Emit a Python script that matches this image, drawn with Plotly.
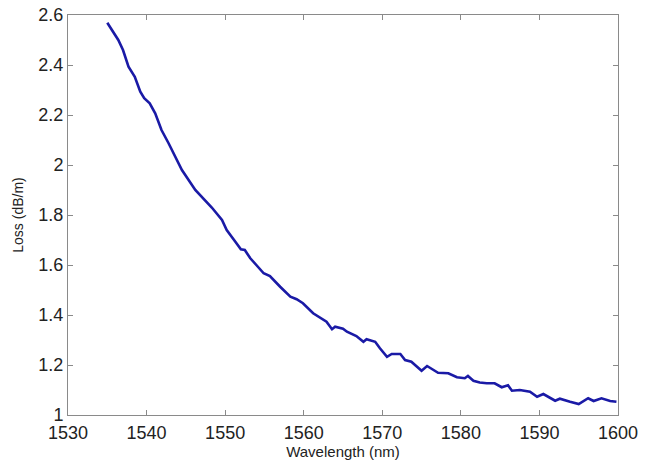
import plotly.graph_objects as go

wavelength_nm = [1535.0, 1536.4, 1537.0, 1537.7, 1538.5, 1539.2, 1539.7, 1540.4, 1541.1, 1541.9,
                 1542.8, 1543.8, 1544.5, 1546.2, 1547.0, 1548.3, 1549.6, 1550.2, 1551.3, 1552.0,
                 1552.5, 1553.2, 1554.9, 1555.7, 1557.0, 1558.3, 1559.1, 1559.9, 1561.2, 1562.9,
                 1563.6, 1564.0, 1565.0, 1565.5, 1566.7, 1567.6, 1568.0, 1569.1, 1569.7, 1570.6,
                 1571.2, 1572.3, 1572.9, 1573.7, 1575.0, 1575.7, 1577.1, 1578.4, 1579.5, 1580.5,
                 1580.9, 1581.6, 1582.4, 1583.3, 1584.3, 1585.2, 1586.0, 1586.5, 1587.5, 1588.8,
                 1589.7, 1590.5, 1592.0, 1592.6, 1593.9, 1595.0, 1596.2, 1596.9, 1597.9, 1599.0,
                 1599.8]
loss_db_per_m = [2.569, 2.50, 2.46, 2.393, 2.353, 2.293, 2.267, 2.247, 2.207, 2.14,
                 2.087, 2.02, 1.98, 1.90, 1.873, 1.830, 1.78, 1.74, 1.693, 1.663,
                 1.66, 1.627, 1.567, 1.556, 1.513, 1.473, 1.463, 1.447, 1.407, 1.373,
                 1.343, 1.353, 1.345, 1.333, 1.316, 1.293, 1.303, 1.293, 1.267, 1.233,
                 1.244, 1.244, 1.22, 1.213, 1.177, 1.196, 1.169, 1.167, 1.151, 1.147,
                 1.156, 1.137, 1.130, 1.127, 1.127, 1.111, 1.119, 1.097, 1.10, 1.093,
                 1.073, 1.084, 1.057, 1.065, 1.053, 1.044, 1.067, 1.056, 1.067, 1.056,
                 1.053]

x_ticks = [1530, 1540, 1550, 1560, 1570, 1580, 1590, 1600]
y_ticks = [1, 1.2, 1.4, 1.6, 1.8, 2, 2.2, 2.4, 2.6]
y_tick_labels = ["1", "1.2", "1.4", "1.6", "1.8", "2", "2.2", "2.4", "2.6"]

FONT = "Liberation Sans, Arial, Helvetica, sans-serif"

fig = go.Figure()
fig.add_trace(go.Scatter(x=wavelength_nm, y=loss_db_per_m, mode="lines",
                         line=dict(color="#1a1aa6", width=2.6), showlegend=False))

axis_common = dict(showgrid=False, zeroline=False, showline=True, mirror="ticks",
                   linecolor="#8a8a8a", linewidth=1, ticks="inside", ticklen=5,
                   tickcolor="#8a8a8a", tickwidth=1, automargin=False,
                   ticklabeloverflow="allow",
                   tickfont=dict(family=FONT, size=18, color="#222"))

fig.update_xaxes(range=[1530, 1600], tickvals=x_ticks, ticklabelstandoff=1,
                 title=dict(text="Wavelength (nm)", standoff=0,
                            font=dict(family=FONT, size=15, color="#222")),
                 **axis_common)
fig.update_yaxes(range=[1, 2.6], tickvals=y_ticks, ticktext=y_tick_labels,
                 title=dict(text="Loss (dB/m)", standoff=11,
                            font=dict(family=FONT, size=14, color="#222")),
                 **axis_common)

fig.update_layout(width=654, height=462, margin=dict(l=68, r=36, t=15, b=47),
                  plot_bgcolor="white", paper_bgcolor="white")

# remove the page's default 8px body margin so the figure fills the window exactly
fig.write_html("out.html", config={"displayModeBar": False},
               post_script="document.body.style.margin='0';document.body.style.overflow='hidden';")
